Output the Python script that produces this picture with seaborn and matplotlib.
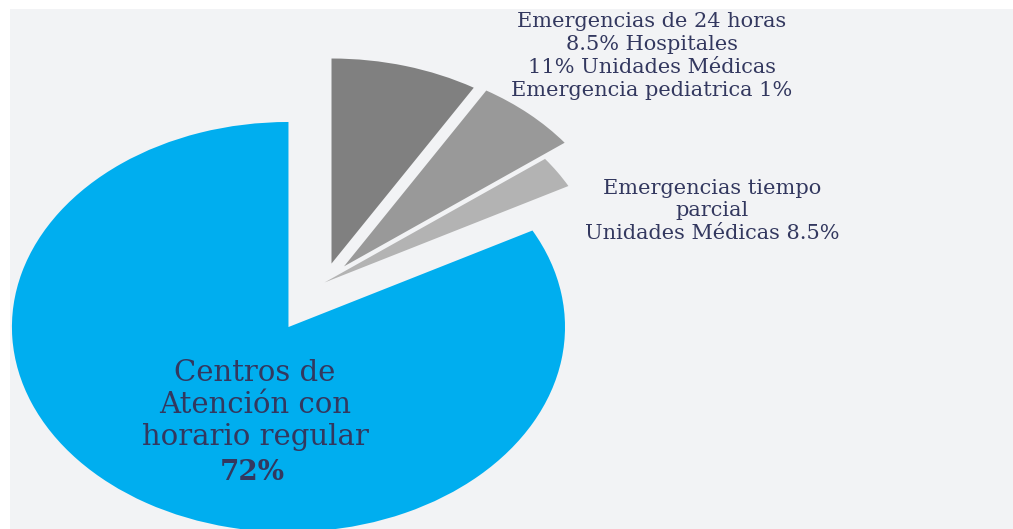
import matplotlib
matplotlib.use("Agg")
import matplotlib.pyplot as plt
import seaborn as sns

# slice shares (clockwise from 12 o'clock)
categories = ["Emergencias 24 h - Hospitales", "Emergencias 24 h - Unidades Médicas",
              "Emergencias tiempo parcial", "Centros de Atención con horario regular"]
shares = [8.6, 6.1, 2.5, 82.8]
colors = ["#808080", "#999999", "#b3b3b3", "#00aeef"]
grey_explode = [0.096, 0.106, 0.0, 0.0]

label_top = "Emergencias de 24 horas\n8.5% Hospitales\n11% Unidades Médicas\nEmergencia pediatrica 1%"
label_right = "Emergencias tiempo\nparcial\nUnidades Médicas 8.5%"
label_main = "Centros de\nAtención con\nhorario regular"
label_main_pct = "72%"

sns.set_theme(style="white")
plt.rcParams["font.family"] = ["DejaVu Serif"]
text_color = "#33385f"
bg = "#f2f3f5"

fig = plt.figure(figsize=(10.13, 5.29), dpi=100, facecolor="white")
ax = fig.add_axes([10 / 1013, 0, 1003 / 1013, 520 / 529])

# main pie: only the big blue slice is shown
wedges, _ = ax.pie(shares, colors=colors, startangle=90, counterclock=False,
                   wedgeprops=dict(linewidth=0))
for w in wedges[:3]:
    w.set_visible(False)

# grey slices pulled out as a group
wedges2, _ = ax.pie(shares, colors=colors, startangle=90, counterclock=False,
                    center=(0.13, 0.217), explode=grey_explode,
                    wedgeprops=dict(linewidth=0))
wedges2[3].set_visible(False)

ax.set_aspect("auto")
ax.set_xlim(-1.007, 2.620)
ax.set_ylim(-0.985, 1.551)
ax.set_frame_on(True)
for s in ax.spines.values():
    s.set_visible(False)
ax.set_facecolor(bg)
ax.set_xticks([])
ax.set_yticks([])

W, H = 1013, 529
fig.text(652 / W, 1 - 56 / H, label_top, ha="center", va="center",
         fontsize=15, color=text_color, linespacing=1.25)
fig.text(712 / W, 1 - 211 / H, label_right, ha="center", va="center",
         fontsize=15, color=text_color, linespacing=1.25)
fig.text(255 / W, 1 - 405 / H, label_main, ha="center", va="center",
         fontsize=21, color=text_color, linespacing=1.18)
fig.text(252 / W, 1 - 472 / H, label_main_pct, ha="center", va="center",
         fontsize=20, color=text_color, fontweight="bold")

fig.savefig("out.png", dpi=100, facecolor="white")
